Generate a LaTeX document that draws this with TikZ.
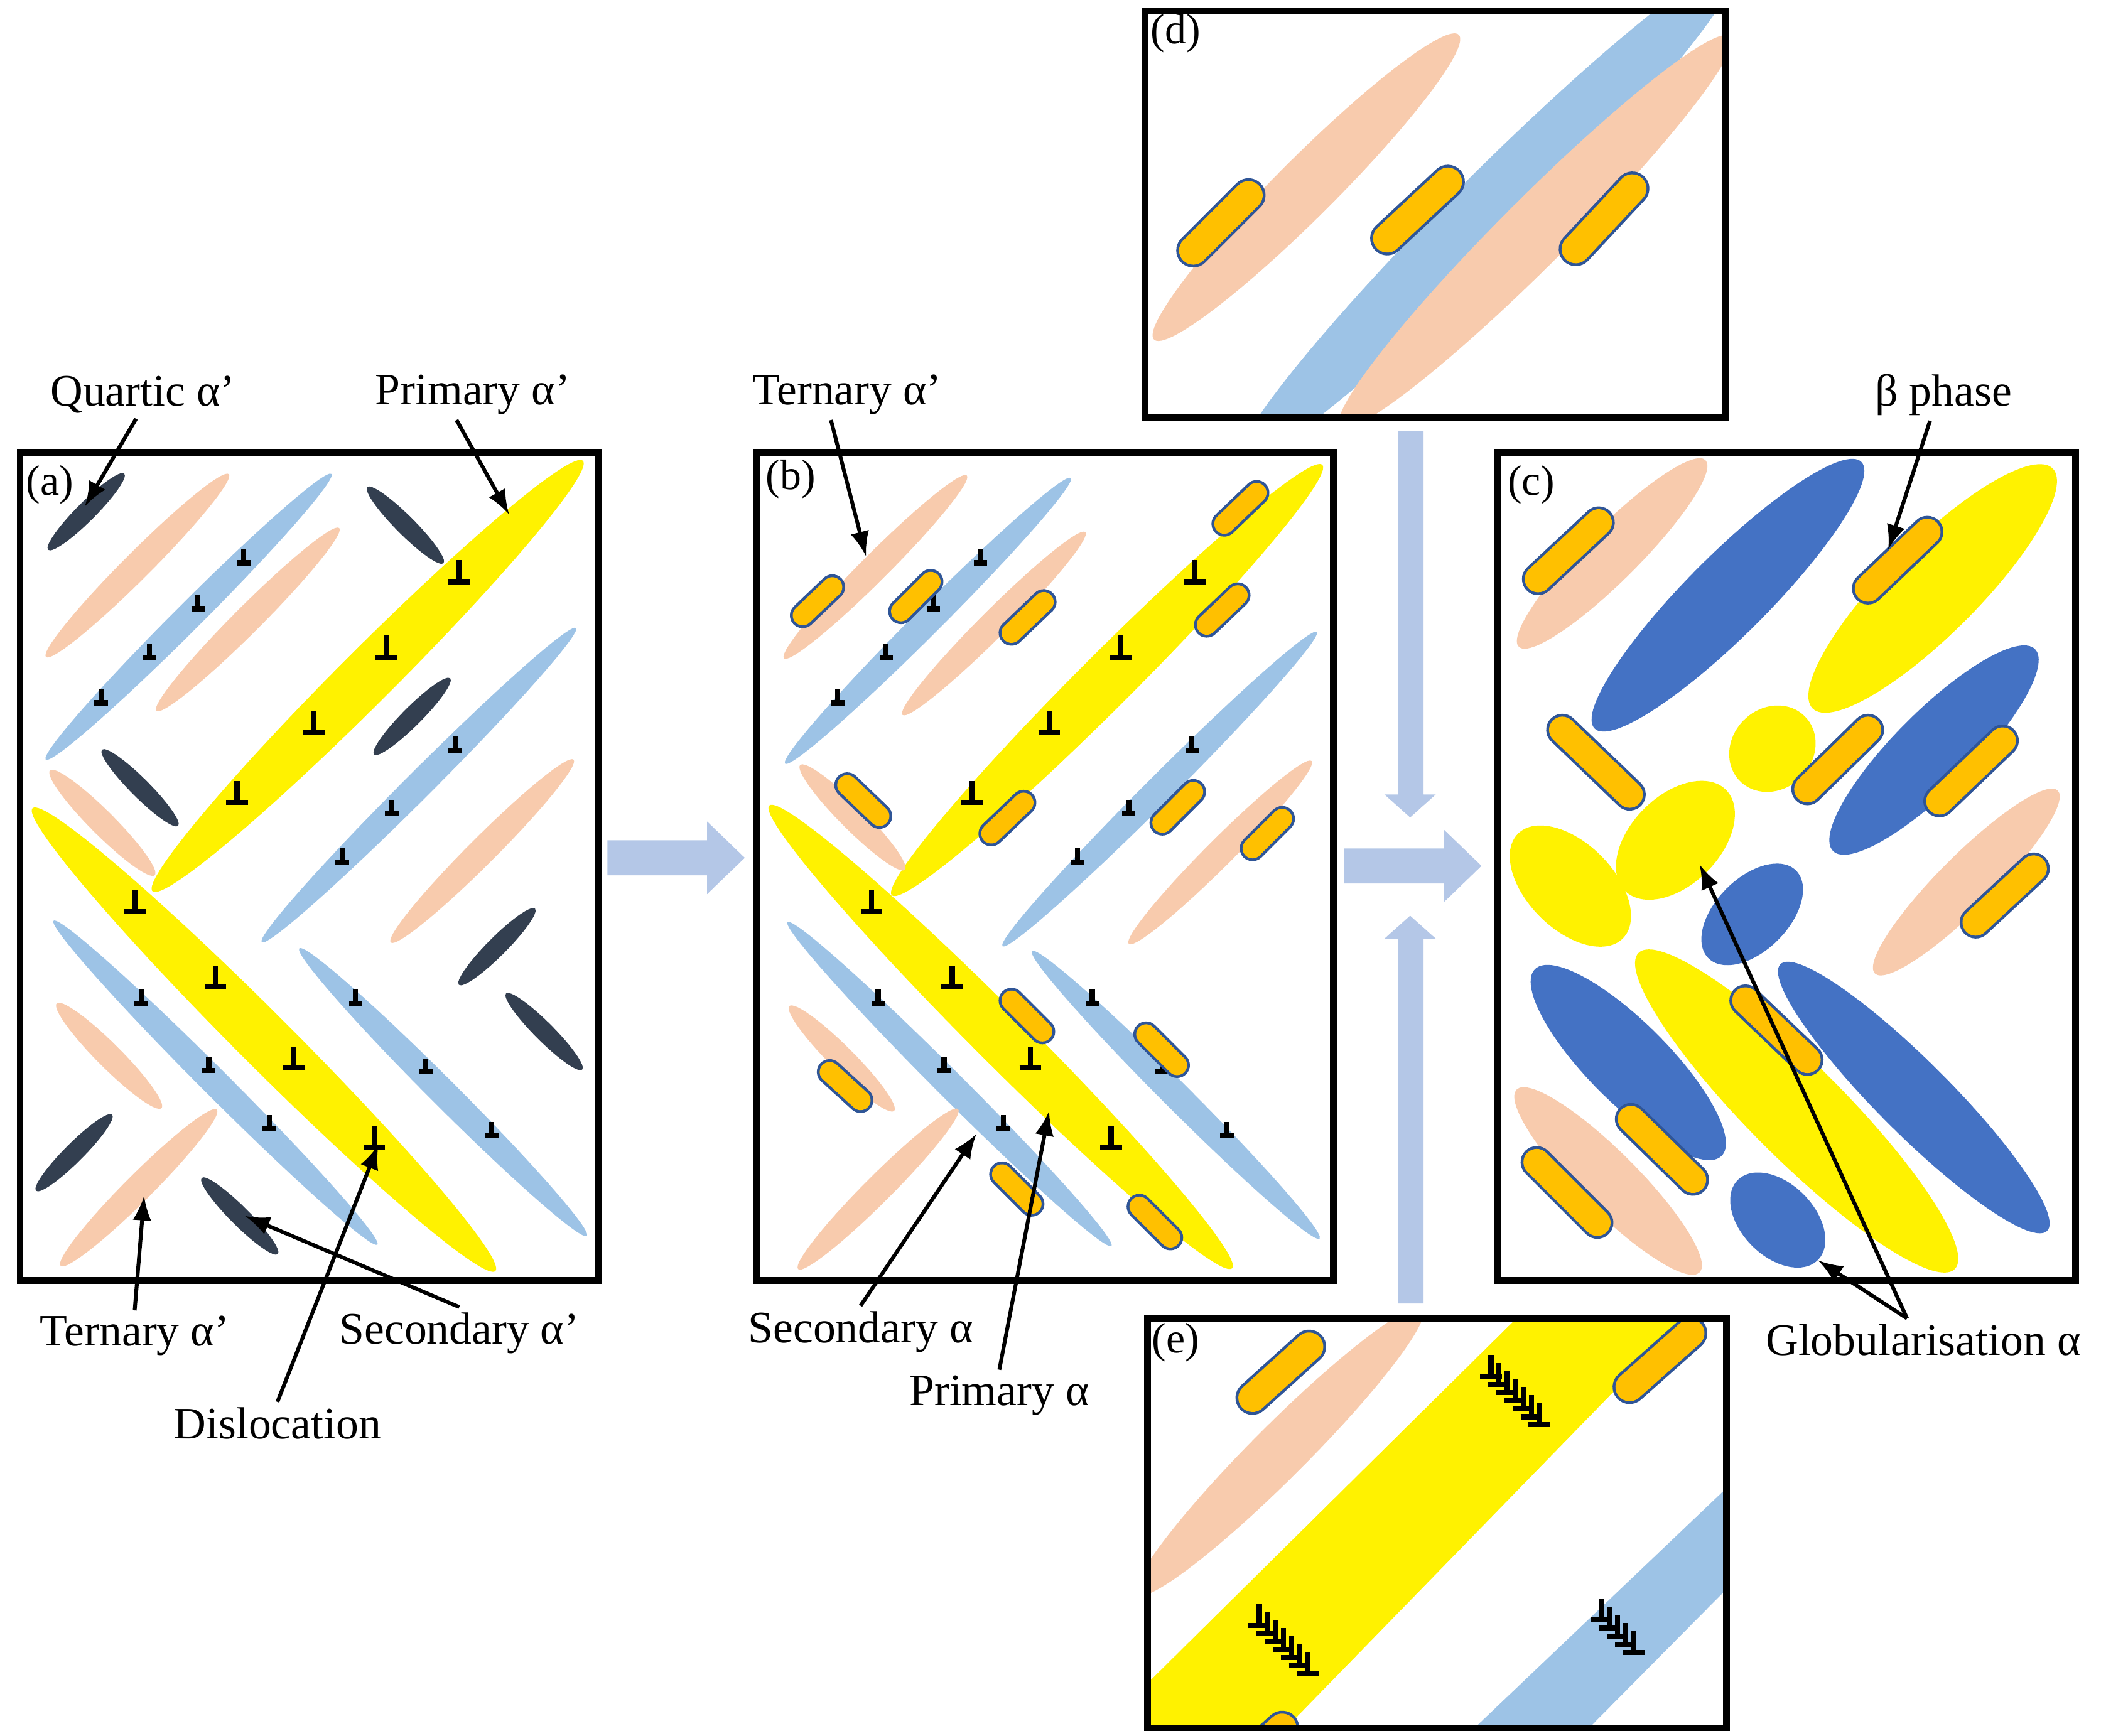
\documentclass[tikz,border=0pt]{standalone}
\usepackage{fontspec}
\setmainfont{Liberation Serif}
\definecolor{lpink}{HTML}{F8CBAD}
\definecolor{lblue}{HTML}{9DC3E6}
\definecolor{dslate}{HTML}{333F50}
\definecolor{dblue}{HTML}{4472C4}
\definecolor{borange}{HTML}{FFC000}
\definecolor{bline}{HTML}{2F5597}
\definecolor{barrow}{HTML}{B4C7E7}

% lath: centre, angle, half length, half width
\newcommand{\lath}[5]{\fill[#1, rotate around={#3:(#2)}] (#2) ellipse ({#4} and {#5});}
% beta capsule between two points
\newcommand{\capsule}[3][4.2pt]{%
  \draw[bline, line width=#1+1.2pt, line cap=round] (#2) -- (#3);
  \draw[borange, line width=#1, line cap=round] (#2) -- (#3);}
% dislocation symbol
\newcommand{\disl}[3]{\draw[line width=1.1pt] (#1,#2) -- ++(0,-#3) (#1,#2) ++(-#3/2,0) -- ++(#3,0);}

\tikzset{
  lbl/.style={font=\fontsize{9.5}{11}\selectfont, inner sep=1pt},
  tag/.style={font=\fontsize{9}{10}\selectfont, inner sep=1pt},
  pnt/.style={-latex, thick},
  panel/.style={line width=1.4pt},
}

\begin{document}
\begin{tikzpicture}[x=0.01cm, y=-0.01cm]
  \useasboundingbox (0,0) rectangle (1560,1289);

  % ---- panel (a)
  \lath{dslate}{64,380}{45}{40}{7}
  \lath{lpink}{102,420}{45}{96}{10}
  \lath{lblue}{140,458}{45}{150}{10}
  \lath{lpink}{184,460}{45}{96}{10}
  \lath{dslate}{301,390}{-45}{40}{7}
  \lath{yellow}{273,502}{45}{226}{20}
  \lath{dslate}{306,532}{45}{40}{7}
  \lath{dslate}{104,585}{-45}{40}{7}
  \lath{lpink}{76,611}{-45}{55}{9}
  \lath{lblue}{311,583}{45}{165}{10}
  \lath{lpink}{358,632}{45}{96}{10}
  \lath{yellow}{196,772}{-45}{243}{20}
  \lath{lblue}{160,804}{-45}{170}{10}
  \lath{lblue}{329,811}{-45}{151}{10}
  \lath{dslate}{369,703}{45}{40}{7}
  \lath{dslate}{404,766}{-45}{40}{7}
  \lath{lpink}{81,784}{-45}{55}{9}
  \lath{dslate}{55,856}{45}{40}{7}
  \lath{lpink}{103,882}{45}{82}{10}
  \lath{dslate}{178,903}{-45}{40}{7}
  \foreach \x/\y in {181/418,147/452,111/488,75/522,338/557,291/604,254/640,
                     105/745,155/795,200/838,264/745,316/796,365/843}
    {\disl{\x}{\y}{10}}
  \foreach \x/\y in {341/432,287/488,233/544,176/596,100/677,160/733,218/793,278/852}
    {\disl{\x}{\y}{16}}
  \draw[panel] (15,336) rectangle (444,951);
  \node[tag] (ta) at (37,360) {(a)};

  % ---- panel (b)
  \lath{lpink}{650,421}{45}{96}{10}
  \lath{lblue}{689,461}{45}{150}{10}
  \lath{lpink}{738,463}{45}{96}{10}
  \lath{yellow}{822,505}{45}{226}{20}
  \lath{lpink}{633,607}{-45}{55}{9}
  \lath{lblue}{861,586}{45}{165}{10}
  \lath{lpink}{906,633}{45}{96}{10}
  \lath{yellow}{743,770}{-45}{243}{20}
  \lath{lblue}{705,805}{-45}{170}{10}
  \lath{lblue}{873,813}{-45}{151}{10}
  \lath{lpink}{625,786}{-45}{55}{9}
  \lath{lpink}{652,883}{45}{84}{10}
  \foreach \x/\y in {728/418,693/452,658/488,622/522,885/557,838/604,800/640,
                     652/745,701/795,745/838,811/745,863/796,911/843}
    {\disl{\x}{\y}{10}}
  \foreach \x/\y in {887/432,832/488,779/544,722/596,647/677,707/733,765/793,825/852}
    {\disl{\x}{\y}{16}}
  \foreach \a/\b/\c/\d in {596/457/618/436, 669/454/691/432, 751/470/775/447,
      909/389/933/366, 896/464/919/442, 629/583/653/606, 736/619/760/596,
      863/611/886/588, 930/630/952/608, 751/743/774/766, 851/768/874/791,
      616/796/639/817, 744/872/766/894, 846/896/869/919}
    {\capsule{\a,\b}{\c,\d}}
  \draw[panel] (562,336) rectangle (990,951);
  \node[tag] (tb) at (587,356) {(b)};

  % ---- panel (c)
  \lath{lpink}{1197,411}{45}{98}{20}
  \lath{dblue}{1283,442}{45}{140}{30}
  \lath{yellow}{1435,437}{45}{126}{34}
  \lath{yellow}{1316,556}{45}{34}{30}
  \lath{dblue}{1436,557}{45}{106}{29}
  \lath{yellow}{1244,624}{45}{53}{33}
  \lath{yellow}{1166,658}{-45}{55}{32}
  \lath{dblue}{1301,679}{45}{46}{27}
  \lath{lpink}{1460,655}{45}{96}{20}
  \lath{dblue}{1209,789}{-45}{98}{30}
  \lath{yellow}{1334,825}{-45}{166}{35}
  \lath{dblue}{1421,815}{-45}{140}{27}
  \lath{lpink}{1194,877}{-45}{96}{22}
  \lath{dblue}{1320,906}{-45}{42}{27}
  \foreach \a/\b/\c/\d in {1142/430/1187/388, 1387/437/1431/395, 1160/542/1210/590,
      1342/586/1387/542, 1440/595/1487/550, 1467/685/1510/645, 1296/743/1342/787,
      1211/831/1257/876, 1141/863/1186/908}
    {\capsule[5.6pt]{\a,\b}{\c,\d}}
  \draw[panel] (1112,336) rectangle (1541,951);
  \node[tag] (tc) at (1137,360) {(c)};

  % ---- panel (d)
  \begin{scope}
    \clip (850,8) rectangle (1281,310);
    \lath{lpink}{970,139}{45}{160}{22}
    \lath{lblue}{1105,158}{45}{260}{28}
    \lath{lpink}{1140,172}{45}{205}{25}
    \capsule[6pt]{886,186}{927,145}
    \capsule[6pt]{1030,177}{1075,135}
    \capsule[6pt]{1170,185}{1212,140}
  \end{scope}
  \draw[panel] (850,8) rectangle (1281,310);
  \node[tag] (td) at (873,25) {(d)};

  % ---- panel (e)
  \begin{scope}
    \clip (852,979) rectangle (1282,1283);
    \lath{lpink}{950,1078}{45}{150}{20}
    \fill[yellow] (852,1283) -- (955,1283) -- (1255,975) -- (1130,975) -- (852,1250) -- cycle;
    \fill[lblue] (1095,1283) -- (1180,1283) -- (1282,1180) -- (1282,1105) -- cycle;
    \capsule[6pt]{930,1038}{972,1000}
    \capsule[6pt]{1210,1030}{1255,990}
    \capsule[6pt]{942,1292}{952,1283}
    \foreach \i in {0,...,6} {\disl{1107+6*\i}{1022+6*\i}{16}}
    \foreach \i in {0,...,6} {\disl{935+6*\i}{1207+6*\i}{16}}
    \foreach \i in {0,...,4} {\disl{1189+6*\i}{1203+6*\i}{16}}
  \end{scope}
  \draw[panel] (852,979) rectangle (1282,1283);
  \node[tag] (te) at (873,997) {(e)};

  % ---- process arrows
  \fill[barrow] (451,624) -- (525,624) -- (525,610) -- (553,637) -- (525,664) -- (525,650) -- (451,650) -- cycle;
  \fill[barrow] (998,630) -- (1072,630) -- (1072,616) -- (1100,643) -- (1072,670) -- (1072,656) -- (998,656) -- cycle;
  \fill[barrow] (1038,320) -- (1057,320) -- (1057,590) -- (1066,590) -- (1047,607) -- (1028,590) -- (1038,590) -- cycle;
  \fill[barrow] (1038,968) -- (1057,968) -- (1057,697) -- (1066,697) -- (1047,680) -- (1028,697) -- (1038,697) -- cycle;

  % ---- labels
  \coordinate (quart) at (63,376);
  \coordinate (prim) at (378,382);
  \coordinate (tern) at (107,888);
  \coordinate (secd) at (182,903);
  \coordinate (disl) at (281,850);
  \coordinate (ternb) at (643,413);
  \coordinate (secb) at (725,842);
  \coordinate (primb) at (779,825);
  \coordinate (beta) at (1402,408);
  \coordinate (glob1) at (1262,642);
  \coordinate (glob2) at (1350,936);

  \node[lbl] (lquart) at (106,293) {Quartic α’};
  \node[lbl] (lprim) at (351,293) {Primary α’};
  \node[lbl] (ltern) at (100,992) {Ternary α’};
  \node[lbl] (lsecd) at (341,990) {Secondary α’};
  \node[lbl] (ldisl) at (206,1057) {Dislocation};
  \node[lbl] (lternb) at (629,293) {Ternary α’};
  \node[lbl] (lsecb) at (639,989) {Secondary α};
  \node[lbl] (lprimb) at (742,1036) {Primary α};
  \node[lbl] (lbeta) at (1443,293) {β phase};
  \node[lbl] (lglob) at (1428,995) {Globularisation α};

  \draw[pnt] (lquart.south) ++(-5,0) coordinate (q0) -- (quart);
  \draw[pnt] (lprim.south) ++(-12,0) coordinate (p0) -- (prim);
  \draw[pnt] (ltern.north) -- (tern);
  \draw[pnt] (lsecd.north) -- (secd);
  \draw[pnt] (ldisl.north) -- (disl);
  \draw[pnt] (lternb.south) ++(-12,0) coordinate (t0) -- (ternb);
  \draw[pnt] (lsecb.north) -- (secb);
  \draw[pnt] (lprimb.north) -- (primb);
  \draw[pnt] (lbeta.south) ++(-10,0) coordinate (b0) -- (beta);
  \draw[pnt] (lglob.north) ++(-12,0) coordinate (g0) -- (glob1);
  \draw[pnt] (g0) -- (glob2);
\end{tikzpicture}
\end{document}
